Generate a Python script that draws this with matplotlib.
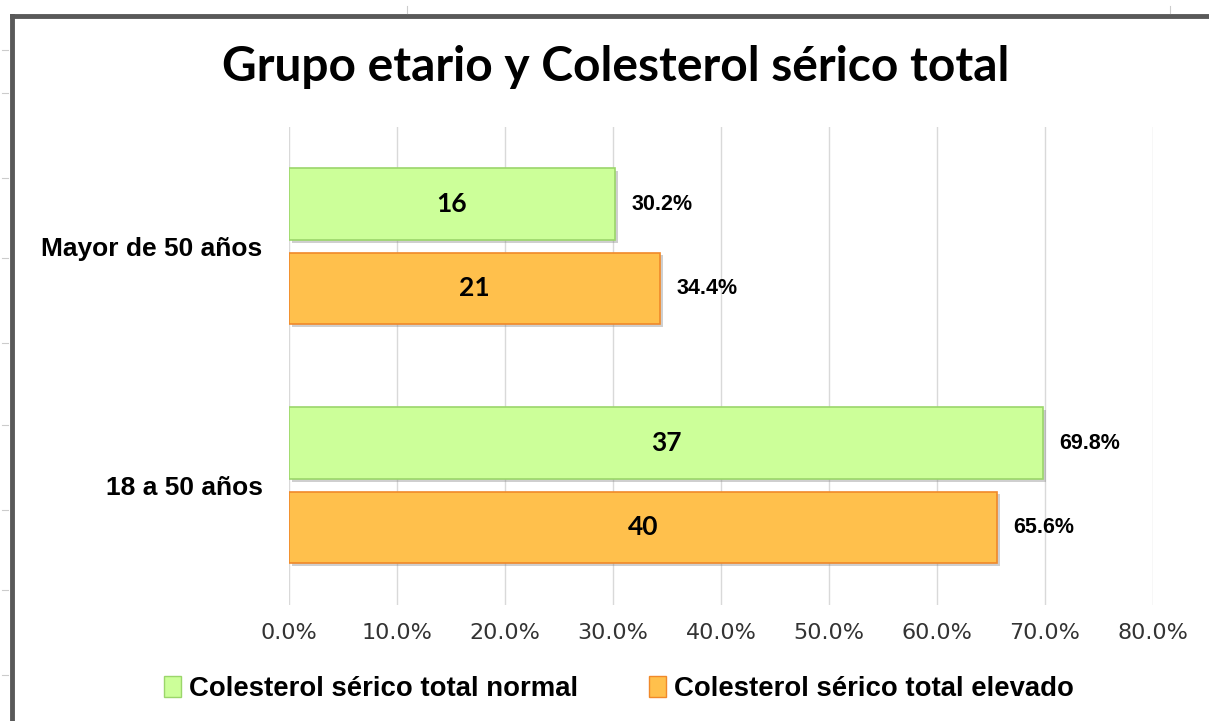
import matplotlib.pyplot as plt
import matplotlib.patheffects as pe
from matplotlib.lines import Line2D
from matplotlib.patches import Patch
import numpy as np

plt.rcParams['font.family'] = ['Liberation Sans', 'DejaVu Sans']

# datos
grupos = ['18 a 50 años', 'Mayor de 50 años']
series = ['Colesterol sérico total normal', 'Colesterol sérico total elevado']
conteo_normal = [37, 16]
conteo_elevado = [40, 21]
pct_normal = [69.8, 30.2]
pct_elevado = [65.6, 34.4]
ticks = [0, 10, 20, 30, 40, 50, 60, 70, 80]

verde = '#CCFF99'
verde_borde = '#9BD66B'
naranja = '#FFC04C'
naranja_borde = '#F0892A'

fig = plt.figure(figsize=(12.09, 7.21), dpi=100)
ax = fig.add_axes([0.239, 0.161, 0.7146, 0.663])

y = np.arange(len(grupos))
h = 0.30
off = 0.176
sombra = [pe.SimplePatchShadow(offset=(2, -2), shadow_rgbFace='#888888', alpha=0.4), pe.Normal()]

b1 = ax.barh(y + off, pct_normal, height=h, color=verde, edgecolor=verde_borde, linewidth=1.2, zorder=3)
b2 = ax.barh(y - off, pct_elevado, height=h, color=naranja, edgecolor=naranja_borde, linewidth=1.2, zorder=3)
for b in list(b1) + list(b2):
    b.set_path_effects(sombra)

for barras, cnt, pct in [(b1, conteo_normal, pct_normal), (b2, conteo_elevado, pct_elevado)]:
    for b, c, p in zip(barras, cnt, pct):
        yc = b.get_y() + b.get_height() / 2
        ax.text(p / 2, yc, str(c), ha='center', va='center', fontsize=19,
                fontweight='bold', family='Lato', zorder=4)
        ax.text(p + 1.5, yc, f'{p:.1f}%', ha='left', va='center', fontsize=15.5,
                fontweight='bold', zorder=4)

ax.set_xlim(0, 80)
ax.set_ylim(-0.5, 1.5)
ax.set_xticks(ticks)
ax.set_xticklabels([f'{t:.1f}%' for t in ticks], fontsize=16, family='DejaVu Sans', color='#333333')
ax.set_yticks(y)
ax.set_yticklabels(grupos, fontsize=19, fontweight='bold')
ax.tick_params(axis='both', length=0)
ax.tick_params(axis='x', pad=13)
ax.tick_params(axis='y', pad=19)
ax.grid(axis='x', color='#D9D9D9', linewidth=1, zorder=0)
for s in ax.spines.values():
    s.set_visible(False)

fig.text(0.509, 0.907, 'Grupo etario y Colesterol sérico total', ha='center', va='center',
         fontsize=34.5, fontweight='bold', family='Lato')

manejadores = [Patch(facecolor=verde, edgecolor=verde_borde),
               Patch(facecolor=naranja, edgecolor=naranja_borde)]
fig.legend(manejadores, series, loc='center', bbox_to_anchor=(0.512, 0.044), ncol=2,
           frameon=False, prop={'size': 19.8, 'weight': 'bold'}, handlelength=0.6,
           handleheight=0.8, handletextpad=0.3, columnspacing=2.6)

# marco de la hoja
fig.add_artist(Line2D([12 / 1209, 1], [1 - 16 / 721, 1 - 16 / 721], color='#595959', linewidth=3.5))
fig.add_artist(Line2D([12 / 1209, 12 / 1209], [0, 1 - 16 / 721], color='#595959', linewidth=3.5))
for xm in [407, 1170]:
    fig.add_artist(Line2D([xm / 1209, xm / 1209], [1 - 6 / 721, 1 - 13 / 721], color='#CCCCCC', linewidth=0.8))
for ym in [50, 93, 178, 258, 343, 425, 510, 590, 675]:
    fig.add_artist(Line2D([2 / 1209, 8 / 1209], [1 - ym / 721, 1 - ym / 721], color='#CCCCCC', linewidth=0.8))

fig.savefig('out.png', dpi=100)
